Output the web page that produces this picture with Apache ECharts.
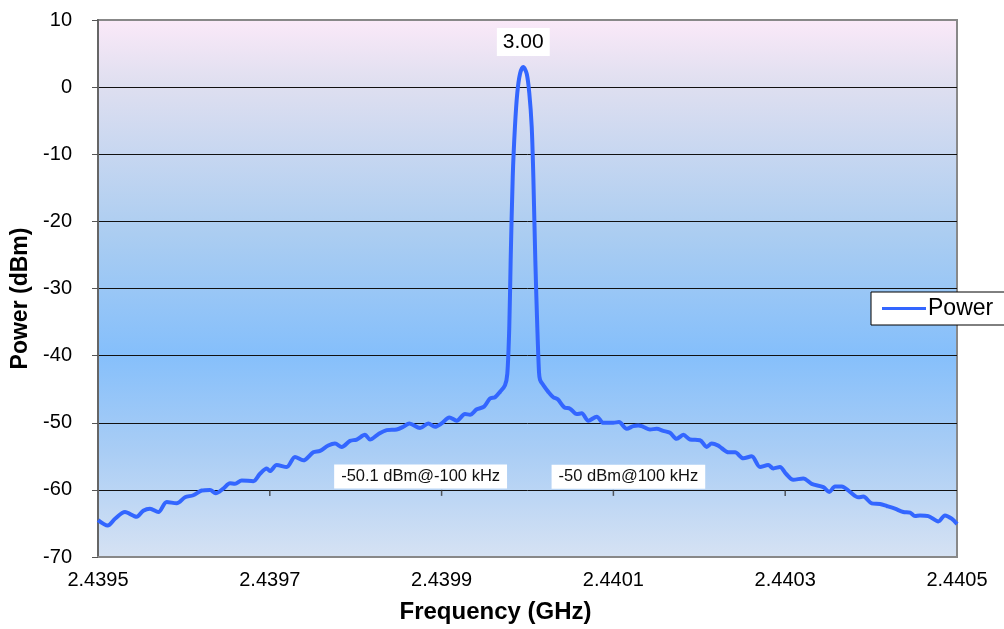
<!DOCTYPE html>
<html>
<head>
<meta charset="utf-8">
<script src="https://cdn.jsdelivr.net/npm/echarts@6/dist/echarts.min.js"></script>
<style>
  html, body { margin: 0; padding: 0; background: #fff; }
  #chart { width: 1004px; height: 629px; }
</style>
</head>
<body>
<div id="chart"></div>
<script>
// Spectrum of a 2.44 GHz carrier: offset from the carrier (kHz) and measured power (dBm)
const CARRIER_GHZ = 2.44;
const freqOffsetKHz = [
  -500, -488.7, -480.2, -468.6, -455.0, -447.3, -439.5, -429.8, -420.0, -408.4,
  -398.7, -389.1, -379.3, -369.6, -363.0, -354.1, -346.3, -340.5, -332.7, -319.2,
  -311.4, -303.6, -299.8, -292.0, -280.3, -270.7, -261.0, -249.4, -241.6, -231.9,
  -224.1, -216.3, -206.6, -198.8, -189.2, -183.4, -173.7, -163.9, -152.3, -144.6,
  -137.6, -125.1, -115.5, -107.7, -100.0, -91.0, -82.4, -72.8, -66.9, -59.1,
  -50.6, -43.7, -37.8, -32.0, -26.2, -23.5, -21.2, -19.6, -17.2, -14.6,
  -11.9, -8.7, -4.9, -0.9, 2.1, 4.9, 6.8, 9.1, 11.4, 13.4,
  14.6, 18.4, 24.2, 30.0, 35.2, 42.8, 49.5, 57.3, 63.1, 70.8,
  80.6, 88.2, 94.1, 100.0, 106.5, 115.5, 123.2, 129.0, 134.8, 142.6,
  150.4, 158.1, 165.9, 173.7, 181.4, 189.2, 200.8, 208.6, 214.4, 222.1,
  226.1, 233.8, 241.6, 251.2, 261.0, 270.7, 280.3, 286.1, 293.9, 300.9,
  309.4, 321.1, 330.8, 344.4, 351.3, 358.0, 365.8, 375.4, 385.1, 390.9,
  400.7, 410.4, 418.2, 427.8, 437.5, 445.3, 451.1, 456.9, 466.6, 478.2,
  486.0, 493.8, 500
];
const powerDbm = [
  -64.5, -65.3, -64.3, -63.3, -64.0, -63.1, -62.8, -63.3, -61.8, -62.0,
  -61.1, -60.8, -60.1, -60.0, -60.5, -59.8, -59.0, -59.1, -58.6, -58.7,
  -57.6, -56.8, -57.2, -56.3, -56.6, -55.1, -55.6, -54.4, -54.2, -53.4,
  -53.1, -53.6, -52.7, -52.5, -51.8, -52.5, -51.7, -51.1, -51.0, -50.6,
  -50.1, -50.8, -50.1, -50.6, -50.1, -49.2, -49.7, -48.7, -48.8, -48.0,
  -47.6, -46.4, -46.2, -45.4, -44.4, -42.7, -35.7, -25.8, -13.4, -5.9,
  -0.9, 2.0, 3.00, 2.0, -0.9, -5.9, -13.4, -25.8, -35.7, -42.5,
  -43.6, -44.4, -45.4, -46.2, -46.5, -47.7, -47.9, -48.7, -48.6, -49.7,
  -49.1, -50.0, -50.0, -50.0, -49.9, -50.9, -50.5, -50.4, -50.6, -51.0,
  -50.9, -51.2, -51.5, -52.4, -51.8, -52.5, -52.6, -53.6, -53.1, -53.4,
  -53.8, -54.4, -54.4, -55.3, -55.0, -56.6, -56.3, -56.8, -56.6, -57.6,
  -58.5, -58.3, -59.1, -59.6, -60.3, -59.5, -59.5, -60.3, -61.1, -61.0,
  -62.0, -62.1, -62.4, -62.8, -63.3, -63.4, -63.9, -63.8, -63.9, -64.7,
  -63.8, -64.3, -65.1
];

// Axis ranges and tick steps
const X_MIN = 2.4395, X_MAX = 2.4405, X_STEP = 0.0002;
const Y_MIN = -70, Y_MAX = 10, Y_STEP = 10;
// Small tick marks where the horizontal axis crosses the -60 dBm level
const crossLevel = -60;
const crossTickFreqs = [2.4397, 2.4399, 2.4401, 2.4403];

// Annotated offsets (kHz) and their levels
const noteOffsetsKHz = [-100, 100];
const noteLevels = [-50.1, -50];

const FONT = '"Liberation Sans", Arial, sans-serif';
const toGHz = k => CARRIER_GHZ + k / 1e6;
const seriesData = freqOffsetKHz.map((k, i) => [toGHz(k), powerDbm[i]]);

const chart = echarts.init(document.getElementById('chart'), null, { renderer: 'canvas' });

const notes = noteOffsetsKHz.map((k, i) => ({
  coord: [toGHz(k), noteLevels[i]],
  value: noteLevels[i],
  label: {
    formatter: () => `${noteLevels[i]} dBm@${k} kHz`,
    offset: i === 0 ? [-21, 53] : [15, 54]
  }
}));

chart.setOption({
  animation: false,
  textStyle: { fontFamily: FONT },
  grid: {
    left: 98, right: 47, top: 20, bottom: 72,
    show: true,
    borderColor: '#888',
    borderWidth: 2,
    backgroundColor: new echarts.graphic.LinearGradient(0, 0, 0, 1, [
      { offset: 0, color: '#fbe9f8' },
      { offset: 0.12, color: '#dfdff0' },
      { offset: 0.4, color: '#abcdf1' },
      { offset: 0.62, color: '#85bffb' },
      { offset: 0.8, color: '#a9cdf5' },
      { offset: 1, color: '#d6e2f3' }
    ])
  },
  legend: {
    data: ['Power'],
    left: 871, top: 292,
    orient: 'vertical',
    backgroundColor: '#fff',
    borderColor: '#000',
    borderWidth: 1,
    borderRadius: 0,
    padding: [5, 30, 5, 11],
    icon: 'rect',
    itemWidth: 44,
    itemHeight: 3,
    itemGap: 0,
    textStyle: { fontSize: 23, color: '#000', fontFamily: FONT, padding: [0, 0, 0, -3] }
  },
  xAxis: {
    type: 'value',
    min: X_MIN, max: X_MAX, interval: X_STEP,
    name: 'Frequency (GHz)',
    nameLocation: 'middle',
    nameGap: 43,
    nameTextStyle: {
      fontSize: 24, fontWeight: 'bold', color: '#000', fontFamily: FONT,
      padding: [0, 64, 0, 0]
    },
    axisLine: { show: true, onZero: false, lineStyle: { color: '#888', width: 2 } },
    axisTick: { show: false },
    splitLine: { show: false },
    axisLabel: {
      fontSize: 20, color: '#000', margin: 13, fontFamily: FONT,
      formatter: v => v.toFixed(4)
    }
  },
  yAxis: {
    type: 'value',
    min: Y_MIN, max: Y_MAX, interval: Y_STEP,
    name: 'Power (dBm)',
    nameLocation: 'middle',
    nameGap: 60,
    nameTextStyle: {
      fontSize: 23, fontWeight: 'bold', color: '#000', fontFamily: FONT,
      padding: [0, 20, 0, 0]
    },
    axisLine: { show: true, lineStyle: { color: '#666', width: 2 } },
    axisTick: { show: true, length: 6, lineStyle: { color: '#555', width: 1 } },
    axisLabel: { fontSize: 20, color: '#000', margin: 26, fontFamily: FONT },
    splitLine: {
      show: true,
      lineStyle: {
        color: ['#888', '#111', '#111', '#111', '#111', '#111', '#111', '#111', '#888'],
        width: 1
      }
    }
  },
  series: [
    {
      name: 'Power',
      type: 'line',
      data: seriesData,
      showSymbol: false,
      symbol: 'none',
      smooth: 0.3,
      lineStyle: { color: '#3366ff', width: 4 },
      itemStyle: { color: '#3366ff' },
      z: 5,
      markPoint: {
        symbol: 'circle',
        symbolSize: 0,
        silent: true,
        label: {
          show: true,
          color: '#000',
          fontFamily: FONT,
          backgroundColor: '#fff'
        },
        data: [
          {
            type: 'max',
            label: {
              fontSize: 21,
              padding: [4, 6, 3, 6],
              offset: [0, -25],
              formatter: p => Number(p.value).toFixed(2)
            }
          },
          ...notes.map(n => ({
            coord: n.coord,
            value: n.value,
            label: Object.assign({ fontSize: 16.5, padding: [4, 7, 3, 7], color: '#111' }, n.label)
          }))
        ]
      }
    },
    {
      name: 'crossTicks',
      type: 'scatter',
      data: crossTickFreqs.map(f => [f, crossLevel]),
      symbol: 'rect',
      symbolSize: [1.5, 6],
      symbolOffset: [0, 3],
      itemStyle: { color: '#333' },
      silent: true,
      z: 3
    }
  ]
});
</script>
</body>
</html>
